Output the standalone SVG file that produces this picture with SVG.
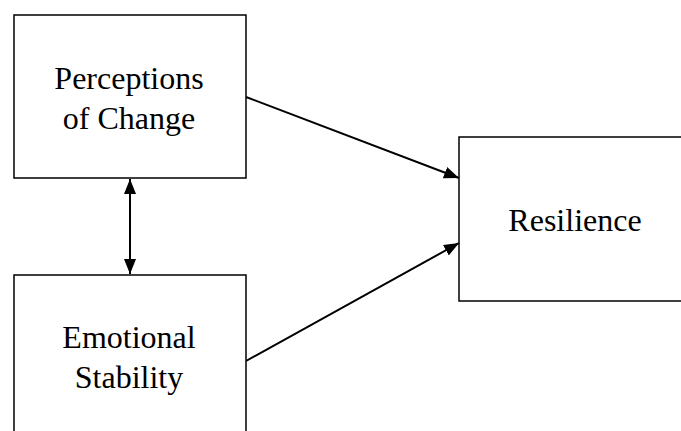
<svg xmlns="http://www.w3.org/2000/svg" width="681" height="431" viewBox="0 0 681 431">
<style>
.box{fill:#fff;stroke:#000;stroke-width:1.5}
.t{font-family:"Liberation Serif","Times New Roman",serif;font-size:32px;fill:#000;text-anchor:middle}
.c{stroke:#000;stroke-width:2;fill:none}
</style>
<defs>
<marker id="ah2" viewBox="0 0 15 12" refX="15" refY="6" markerWidth="15" markerHeight="12" markerUnits="userSpaceOnUse" orient="auto-start-reverse"><path d="M0,0 L15,6 L0,12 z" fill="#000"/></marker>
</defs>
<rect width="681" height="431" fill="#fff"/>
<g id="perceptions">
<rect class="box" x="14" y="15" width="232" height="163"/>
<text class="t" x="129" y="89">Perceptions</text>
<text class="t" x="129" y="129">of Change</text>
</g>
<g id="emotional">
<rect class="box" x="14" y="275" width="232" height="170"/>
<text class="t" x="129" y="348">Emotional</text>
<text class="t" x="129" y="388">Stability</text>
</g>
<g id="resilience">
<rect class="box" x="459" y="137" width="240" height="164"/>
<text class="t" x="575" y="231">Resilience</text>
</g>
<g id="connectors">
<line class="c" x1="246" y1="97" x2="459" y2="178" marker-end="url(#ah2)"/>
<line class="c" x1="246" y1="361" x2="459" y2="243" marker-end="url(#ah2)"/>
<line class="c" x1="130" y1="179" x2="130" y2="274" marker-start="url(#ah2)" marker-end="url(#ah2)"/>
</g>
</svg>
